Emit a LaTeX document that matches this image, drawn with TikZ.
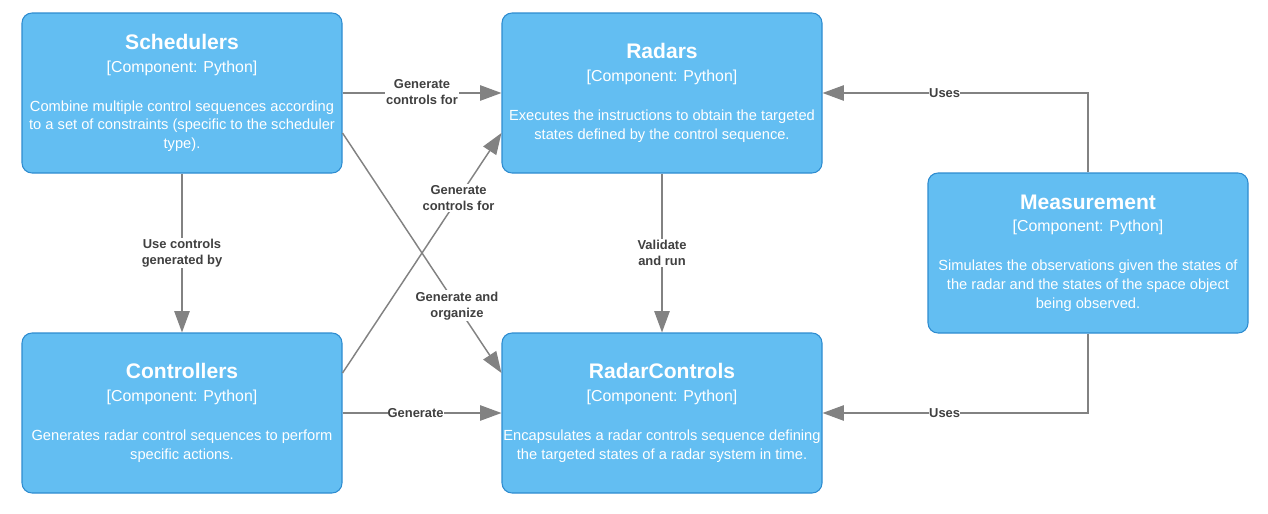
\documentclass[tikz,border=0pt]{standalone}
\usepackage{fontspec}
\setmainfont{Liberation Sans}
\usetikzlibrary{arrows.meta,calc}
\definecolor{compfill}{HTML}{63BEF2}
\definecolor{compdraw}{HTML}{2E8CD0}
\definecolor{edgegray}{HTML}{828282}
\definecolor{labelgray}{HTML}{404040}
\newcommand{\comptext}[2]{{\fontsize{15.8}{17}\selectfont\bfseries #1}\\[3pt]{\fontsize{11.9}{14}\selectfont [Component: Python]}\\[15pt]#2}
\tikzset{
  comp/.style={rectangle, rounded corners=7.5pt, fill=compfill, draw=compdraw, line width=0.8pt,
    minimum width=240pt, minimum height=120pt, text=white, align=center,
    font=\fontsize{11}{14.1}\selectfont, inner sep=0pt},
  rel/.style={draw=edgegray, line width=1.1pt, -{Triangle[length=16pt,width=11.5pt]}},
  lbl/.style={fill=white, text=labelgray, font=\fontsize{9.7}{12}\selectfont\bfseries, align=center, inner sep=1pt},
}
\begin{document}
\begin{tikzpicture}[x=0.75pt,y=-0.75pt]
\useasboundingbox (0,0) rectangle (1268,514);
\node[comp] (sch) at (182,93) {\comptext{Schedulers}{Combine multiple control sequences according\\to a set of constraints (specific to the scheduler\\type).}};
\node[comp] (rad) at (662,93) {\comptext{Radars}{Executes the instructions to obtain the targeted\\states defined by the control sequence.}};
\node[comp] (ctl) at (182,413) {\comptext{Controllers}{Generates radar control sequences to perform\\specific actions.}};
\node[comp] (rc) at (662,413) {\comptext{RadarControls}{Encapsulates a radar controls sequence defining\\the targeted states of a radar system in time.}};
\node[comp] (meas) at (1088,253) {\comptext{Measurement}{Simulates the observations given the states of\\the radar and the states of the space object\\being observed.}};

\draw[rel] (sch.east) -- node[lbl, yshift=1pt] {Generate\\controls for} (rad.west);
\draw[rel] ([yshift=-30pt]sch.east) -- node[lbl, pos=0.72] {Generate and\\organize} ([yshift=30pt]rc.west);
\draw[rel] ([yshift=30pt]ctl.east) -- node[lbl, pos=0.73] {Generate\\controls for} ([yshift=-30pt]rad.west);
\draw[rel] (ctl.east) -- node[lbl, pos=0.46, inner sep=0pt] {Generate} (rc.west);
\draw[rel] (sch.south) -- node[lbl] {Use controls\\generated by} (ctl.north);
\draw[rel] (rad.south) -- node[lbl] {Validate\\and run} (rc.north);
\draw[rel] (meas.north) |- node[lbl, pos=0.77, inner sep=0pt] {Uses} (rad.east);
\draw[rel] (meas.south) |- node[lbl, pos=0.77, inner sep=0pt] {Uses} (rc.east);
\end{tikzpicture}
\end{document}
